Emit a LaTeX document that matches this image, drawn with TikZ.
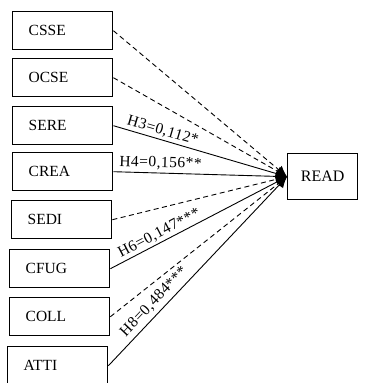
\documentclass[tikz,border=0pt]{standalone}
\usepackage{fontspec}
\setmainfont{Liberation Serif}
\newfontfamily\coeffont[LetterSpace=3]{Liberation Serif}
\usetikzlibrary{arrows.meta}
\begin{document}
\begin{tikzpicture}[x=1pt,y=-1pt,
  varbox/.style={draw, line width=1.4pt, anchor=north west, minimum height=38pt,
    text width=68pt, inner xsep=16pt, align=left, font=\fontsize{15.5}{18}\selectfont},
  outbox/.style={draw, line width=1.4pt, anchor=north west, minimum width=70pt,
    minimum height=46pt, font=\fontsize{16}{18}\selectfont},
  path/.style={line width=0.9pt, -{Latex[length=11pt,width=10pt]}},
  nopath/.style={path, dashed, dash pattern=on 5pt off 3.5pt},
  coef/.style={sloped, above, inner sep=2pt, font=\coeffont\fontsize{15.5}{17}\selectfont}]
\useasboundingbox (0,0) rectangle (374,383);
% predictor boxes
\node[varbox] (csse) at (12,11)  {CSSE};
\node[varbox] (ocse) at (12,58)  {OCSE};
\node[varbox] (sere) at (12,106) {SERE};
\node[varbox] (crea) at (12,152) {CREA};
\node[varbox] (sedi) at (11,200) {SEDI};
\node[varbox] (cfug) at (9,249)  {CFUG};
\node[varbox] (coll) at (9,297)  {COLL};
\node[varbox] (atti) at (7,346)  {ATTI};
% outcome
\node[outbox] (read) at (287,153) {READ};
% non-significant paths
\draw[nopath] (csse.east) -- (read.west);
\draw[nopath] (ocse.east) -- (read.west);
\draw[nopath] (sedi.east) -- (read.west);
\draw[nopath] (coll.east) -- (read.west);
% significant paths
\draw[path] (sere.east) -- node[coef, pos=0.27] {H3=0,112*} (read.west);
\draw[path] (crea.east) -- node[coef, pos=0.27, inner sep=3pt] {H4=0,156**} (read.west);
\draw[path] (cfug.east) -- node[coef, pos=0.30] {H6=0,147***} (read.west);
\draw[path] (atti.east) -- node[coef, pos=0.30, inner sep=4pt] {H8=0,484***} (read.west);
\end{tikzpicture}
\end{document}
